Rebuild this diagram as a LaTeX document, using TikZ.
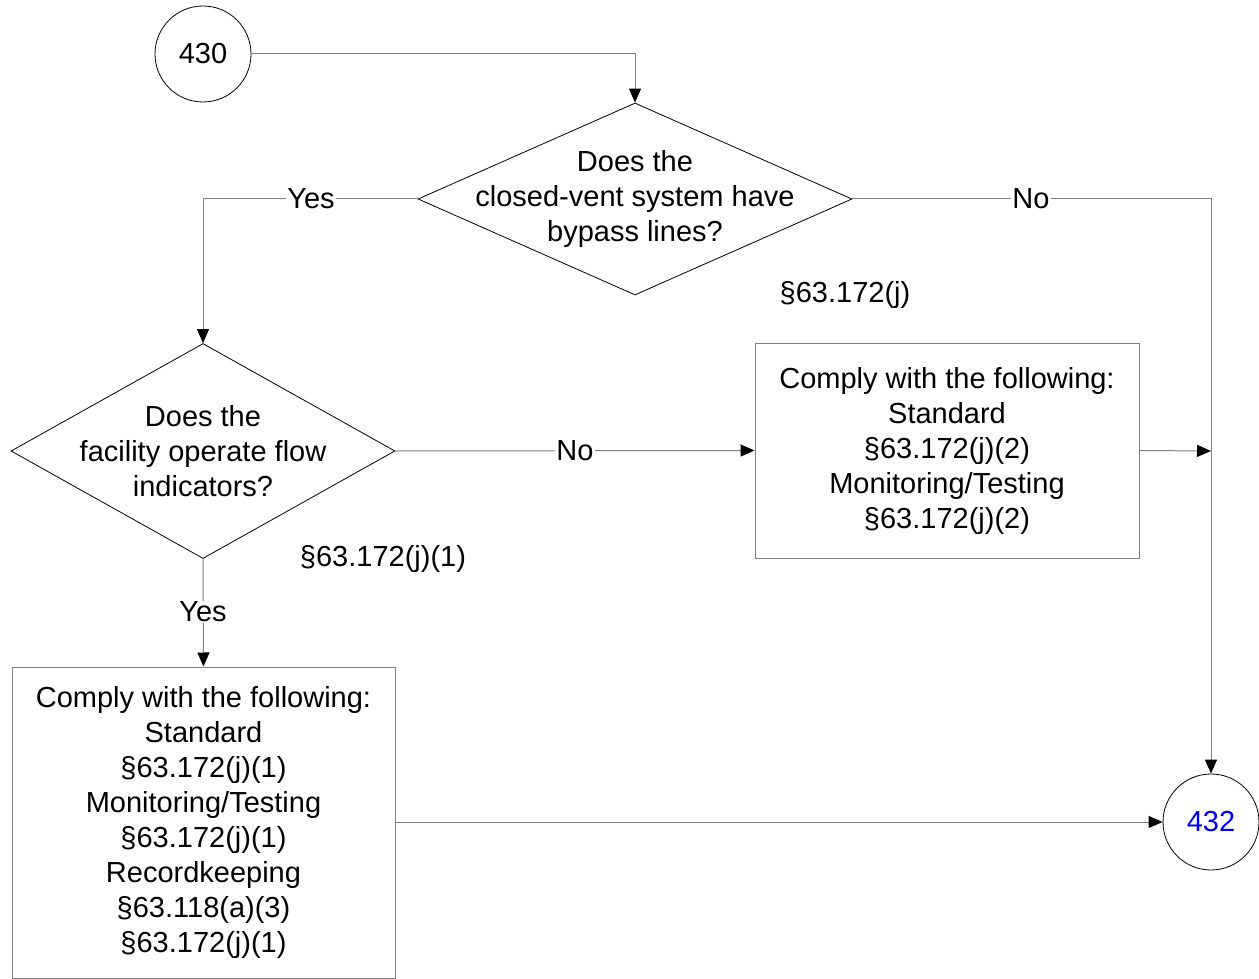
\documentclass[tikz,border=0pt]{standalone}
\usepackage{fontspec}
\setmainfont{Liberation Sans}
\usetikzlibrary{arrows.meta,shapes.geometric}
\definecolor{lgray}{RGB}{128,128,128}
\definecolor{nblue}{RGB}{0,0,255}
\tikzset{
  conn/.style={draw=lgray,line width=1pt},
  arr/.style={conn,-{Triangle[length=14pt,width=12pt,color=black]}},
  term/.style={circle,draw=black,line width=0.8pt,minimum size=96pt,inner sep=0pt,font=\fontsize{29}{35}\selectfont},
  dec/.style={diamond,draw=black,line width=0.8pt,inner sep=0pt,align=center,font=\fontsize{29}{35}\selectfont},
  dect/.style={align=center,inner sep=0pt,font=\fontsize{29}{35}\selectfont},
  proc/.style={rectangle,draw=lgray,line width=1pt,inner sep=0pt,align=center,font=\fontsize{29}{35}\selectfont},
  lbl/.style={fill=white,inner sep=1pt,font=\fontsize{29}{35}\selectfont},
  ref/.style={inner sep=0pt,font=\fontsize{29}{35}\selectfont}
}
\begin{document}
\begin{tikzpicture}[x=1pt,y=-1pt]
\useasboundingbox (0,0) rectangle (1259,979);
\node[term] (n430) at (203,54) {430};
\node[term,text=nblue] (n432) at (1211,822) {432};
\node[dec,minimum width=434pt,minimum height=192pt] (d1) at (635,199) {};
\node[dect] (d1t) at (635,199) {Does the\\closed-vent system have\\bypass lines?};
\node[dec,minimum width=384pt,minimum height=215pt] (d2) at (203,451) {};
\node[dect] (d2t) at (203,451) {Does the\\facility operate flow\\indicators?};
\node[proc,minimum width=384pt,minimum height=215pt] (b2) at (947,450.5) {Comply with the following:\\Standard\\§63.172(j)(2)\\Monitoring/Testing\\§63.172(j)(2)};
\node[proc,minimum width=383pt,minimum height=311pt] (b1) at (203.5,822.5) {Comply with the following:\\Standard\\§63.172(j)(1)\\Monitoring/Testing\\§63.172(j)(1)\\Recordkeeping\\§63.118(a)(3)\\§63.172(j)(1)};
\node[ref] (r1) at (845,295) {§63.172(j)};
\node[ref] (r2) at (383,559) {§63.172(j)(1)};
\coordinate (c1) at (635,54);
\coordinate (c2) at (203,199);
\coordinate (c3) at (1211,199);
\coordinate (c4) at (1211,451);
\draw[arr] (n430.east) -- (c1) -- (d1.north);
\draw[arr] (d1.west) -- (c2) -- (d2.north);
\node[lbl] at (311,199) {Yes};
\draw[arr] (d1.east) -- (c3) -- (n432.north);
\node[lbl] at (1031,199) {No};
\draw[arr] (d2.east) -- (b2.west);
\node[lbl] at (575,451) {No};
\draw[arr] (d2.south) -- (b1.north);
\node[lbl] at (203,612) {Yes};
\draw[arr] (b2.east) -- (c4);
\draw[arr] (b1.east |- n432.west) -- (n432.west);
\end{tikzpicture}
\end{document}
